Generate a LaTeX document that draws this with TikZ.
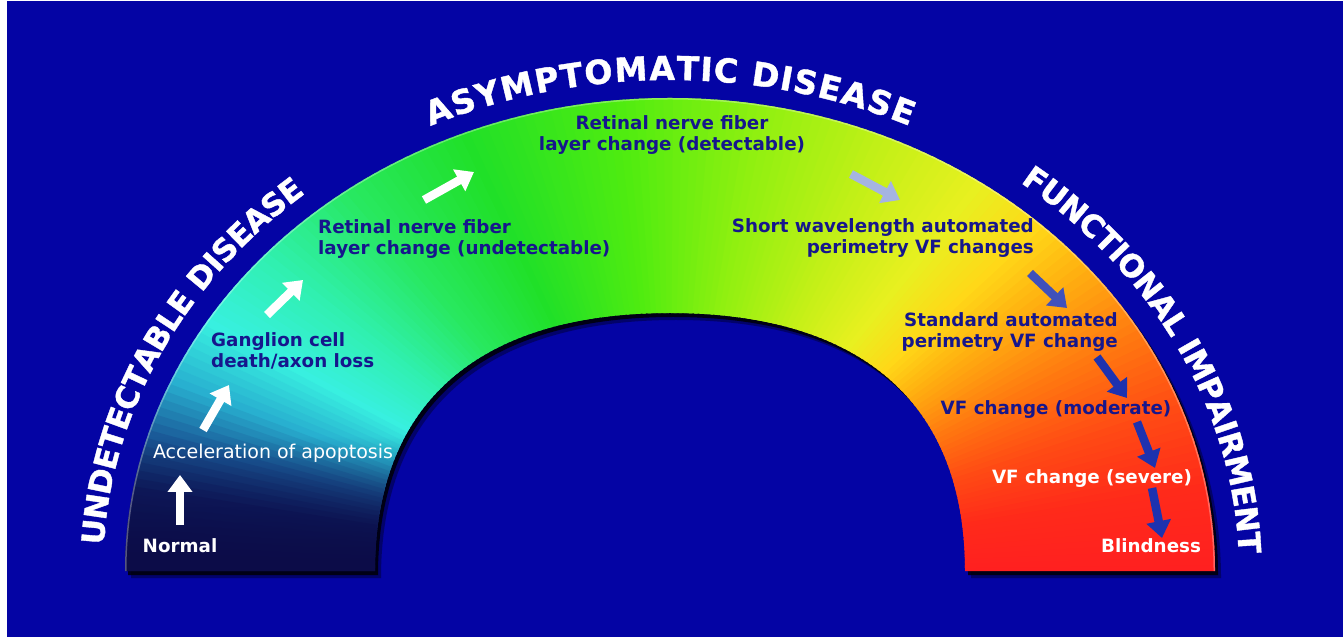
\documentclass[tikz,border=0pt]{standalone}
\usepackage{fontspec}
\setmainfont{DejaVu Sans}
\newfontfamily\titlefont[FakeBold=1.2]{DejaVu Sans Bold}
\usetikzlibrary{arrows.meta, calc, decorations.text, fadings}
\definecolor{bgblue}{RGB}{4,4,164}
\definecolor{labelblue}{RGB}{22,22,140}
\definecolor{arrowblue}{RGB}{30,50,175}
\definecolor{arrowgrey}{RGB}{165,180,225}
% colour stops round the arch, right foot to left foot
\definecolor{g0}{HTML}{FF2020}
\definecolor{g1}{HTML}{FF2A1A}
\definecolor{g2}{HTML}{FF4A14}
\definecolor{g3}{HTML}{FF7810}
\definecolor{g4}{HTML}{FFB010}
\definecolor{g5}{HTML}{FFD818}
\definecolor{g6}{HTML}{E8F020}
\definecolor{g7}{HTML}{C8F018}
\definecolor{g8}{HTML}{90F010}
\definecolor{g9}{HTML}{50EC10}
\definecolor{g10}{HTML}{20E028}
\definecolor{g11}{HTML}{28E860}
\definecolor{g12}{HTML}{30F0B0}
\definecolor{g13}{HTML}{38F0E0}
\definecolor{g14}{HTML}{28B0D0}
\definecolor{g15}{HTML}{1A5A98}
\definecolor{g16}{HTML}{0E1E60}
\definecolor{g17}{HTML}{0C0C48}

\def\archpath{(125,66) arc[start angle=180, end angle=0, x radius=545pt, y radius=473pt]
  -- (965,66) .. controls (965,233.7) and (861.75,324) .. (670,324)
  .. controls (478.25,324) and (375,233.7) .. (375,66) -- cycle}

\begin{document}
\begin{tikzpicture}[x=1pt, y=1pt,
    stagetext/.style={font=\bfseries\fontsize{18.3}{21}\selectfont, text=labelblue, inner sep=0pt},
    whitetext/.style={stagetext, text=white},
    stagearrow/.style={-{Triangle[length=17pt, width=24pt]}, line width=8.5pt, white},
    archtitle/.style 2 args={decorate, decoration={text effects along path, text={#2},
        text effects/.cd, text along path, fit text to path,
        every character/.style={font=\titlefont\fontsize{#1}{#1}\selectfont, text=white}}}
]

% background
\useasboundingbox (0,0) rectangle (1343,637);
\fill[white] (0,0) rectangle (1343,637);
\fill[bgblue] (7,0) rectangle (1343,636);
\coordinate (ctr) at (670,66);

% shadow under the arch
\begin{scope}[shift={(6,-7)}]
  \fill[black, opacity=0.35] \archpath;
\end{scope}
\begin{scope}[shift={(3,-4)}]
  \fill[black, opacity=0.8] \archpath;
\end{scope}

% the arch with its colour sweep
\begin{scope}
  \clip \archpath;
  \foreach \a/\b/\ca/\cb in {0/10/g0/g1, 10/20/g1/g2, 20/30/g2/g3, 30/40/g3/g4,
      40/47/g4/g5, 47/55/g5/g6, 55/65/g6/g7, 65/80/g7/g8, 80/95/g8/g9,
      95/112/g9/g10, 112/126/g10/g11, 126/138/g11/g12, 138/148/g12/g13,
      148/156/g13/g14, 156/163/g14/g15, 163/170/g15/g16, 170/180/g16/g17}{
    \pgfmathtruncatemacro\n{\b-\a-1}
    \foreach \i in {0,...,\n}{
      \pgfmathsetmacro\p{100*\i/(\b-\a)}
      \pgfmathsetmacro\s{\a+\i-0.3}
      \pgfmathsetmacro\e{\a+\i+1.3}
      \fill[\cb!\p!\ca] (ctr) -- ($(ctr)+(\s:700pt and 608pt)$)
        -- ($(ctr)+(\e:700pt and 608pt)$) -- cycle;
    }
  }
  % dark foot on the left
  \fill[g17, path fading=north] (110,60) rectangle (420,200);
  % light rim
  \draw[white, opacity=0.3, line width=3pt] (125,66)
    arc[start angle=180, end angle=0, x radius=545pt, y radius=473pt];
\end{scope}

% titles round the arch
\path[archtitle={31}{UNDETECTABLE DISEASE}] (ctr) ++(177:567pt and 493pt)
  arc[start angle=177, end angle=130, x radius=567pt, y radius=493pt];
\path[archtitle={33}{ASYMPTOMATIC DISEASE}] (ctr) ++(115:567pt and 491pt)
  arc[start angle=115, end angle=65, x radius=567pt, y radius=491pt];
\path[archtitle={31}{FUNCTIONAL IMPAIRMENT}] (ctr) ++(52:569pt and 493pt)
  arc[start angle=52, end angle=2, x radius=569pt, y radius=493pt];

% stages
\node[whitetext] (normal) at (180,91) {Normal};
\node[whitetext, font=\fontsize{19}{21}\selectfont] (apoptosis) at (273,184) {Acceleration of apoptosis};
\node[stagetext, anchor=west, align=left] (ganglion) at (211,286) {Ganglion cell\\death/axon loss};
\node[stagetext, anchor=west, align=left] (rnflhidden) at (318,398) {Retinal nerve fiber\\layer change (undetectable)};
\node[stagetext, align=center] (rnflseen) at (672,502) {Retinal nerve fiber\\layer change (detectable)};
\node[stagetext, anchor=east, align=right] (swap) at (1034,399) {Short wavelength automated\\perimetry VF changes};
\node[stagetext, anchor=east, align=right] (sap) at (1118,305) {Standard automated\\perimetry VF change};
\node[stagetext] (moderate) at (1056,227) {VF change (moderate)};
\node[whitetext] (severe) at (1092,158) {VF change (severe)};
\node[whitetext] (blind) at (1151,91) {Blindness};

% arrow ends
\coordinate (a1s) at (180,112);  \coordinate (a1e) at (180,162);
\coordinate (a2s) at (203,207);  \coordinate (a2e) at (229,252);
\coordinate (a3s) at (267,322);  \coordinate (a3e) at (303,357);
\coordinate (a4s) at (424,437);  \coordinate (a4e) at (474,465);
\coordinate (a5s) at (851,463);  \coordinate (a5e) at (900,437);
\coordinate (a6s) at (1030,364); \coordinate (a6e) at (1067,329);
\coordinate (a7s) at (1097,280); \coordinate (a7e) at (1127,239);
\coordinate (a8s) at (1137,215); \coordinate (a8e) at (1155,169);
\coordinate (a9s) at (1152,149); \coordinate (a9e) at (1162,99);

% arrows
\foreach \k in {1,...,4}
  \draw[stagearrow] (a\k s) -- (a\k e);
\draw[stagearrow, arrowgrey] (a5s) -- (a5e);
\draw[stagearrow, arrowblue!85!white] (a6s) -- (a6e);
\foreach \k in {7,8,9}
  \draw[stagearrow, arrowblue] (a\k s) -- (a\k e);

\end{tikzpicture}
\end{document}
